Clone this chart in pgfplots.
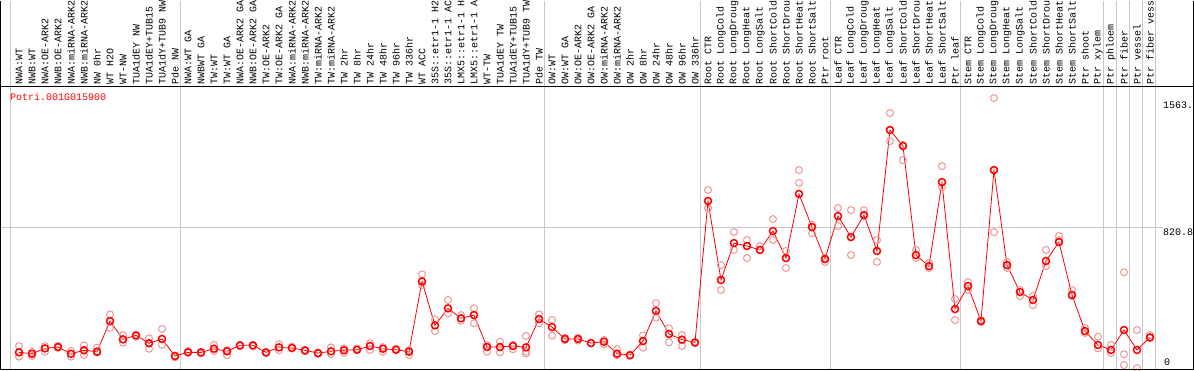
\documentclass[border=0pt]{standalone}
\usepackage{fontspec}
\setmainfont{Liberation Mono}
\usepackage{pgfplots}
\pgfplotsset{compat=1.18}
\definecolor{mred}{RGB}{255,0,0}
\definecolor{mpink}{RGB}{238,150,150}
\definecolor{mgrid}{RGB}{200,200,200}
\pgfplotstableread{
i v
0 97
1 89
2 120
3 128
4 89
5 109
6 101
7 279
8 173
9 196
10 150
11 175
12 76
13 97
14 97
15 118
16 103
17 138
18 138
19 97
20 126
21 122
22 109
23 93
24 103
25 109
26 112
27 134
28 118
29 112
30 101
31 510
32 254
33 353
34 295
35 314
36 128
37 128
38 134
39 126
40 291
41 244
42 175
43 175
44 151
45 159
46 89
47 81
48 163
49 338
50 204
51 171
52 155
53 978
54 518
55 733
56 716
57 693
58 803
59 646
60 1019
61 826
62 640
63 890
64 768
65 896
66 687
67 1391
68 1298
69 663
70 599
71 1088
72 349
73 483
74 279
75 1158
76 605
77 448
78 402
79 629
80 739
81 431
82 221
83 140
84 111
85 227
86 111
87 184
}\means
\pgfplotstableread{
i v
0 134
0 72
1 76
1 101
2 134
2 101
3 124
3 134
4 105
4 72
5 138
5 81
6 124
6 95
7 318
7 240
8 198
8 153
9 196
9 188
10 179
10 118
11 233
11 141
12 76
12 68
13 105
14 90
15 140
15 105
16 81
16 110
17 132
18 132
19 92
20 144
20 110
21 130
22 103
23 88
24 126
24 87
25 120
25 95
26 118
27 150
27 111
28 128
28 100
29 118
30 81
30 110
31 551
31 489
32 289
32 221
33 402
33 324
34 314
34 281
35 353
35 266
36 101
36 140
37 159
37 97
38 140
38 115
39 192
39 101
39 90
40 318
40 266
41 285
41 194
42 180
42 168
43 180
43 165
44 150
45 168
45 145
46 115
46 80
47 76
48 196
48 124
49 384
49 299
50 237
50 155
51 198
51 134
52 150
53 1042
53 937
54 605
54 460
55 797
55 693
56 751
56 646
57 693
57 716
58 873
58 751
59 687
59 588
60 1158
60 1083
61 840
61 790
62 646
62 623
63 937
63 832
64 925
64 663
65 925
65 890
66 751
66 623
67 1490
67 1327
68 1304
68 1216
69 693
69 646
70 617
70 588
71 1181
71 1059
72 407
72 285
73 506
73 460
74 285
74 274
75 1577
75 797
76 623
76 588
77 460
77 425
78 425
78 372
79 693
79 599
80 774
80 751
81 460
81 425
82 239
82 210
83 188
83 120
84 140
84 93
85 563
85 86
85 23
86 227
86 5
87 198
87 180
}\reps
\begin{document}
\begin{tikzpicture}[lab/.style={rotate=90, anchor=west, inner sep=0pt, font=\fontsize{10}{12}\selectfont}]
\begin{axis}[
 name=a,
 scale only axis, width=1192pt, height=368pt,
 xmin=-1.385, xmax=90.31, ymin=0, ymax=2142,
 axis line style={draw=none},
 xtick={-0.65,12.4,40.45,52.4,62.4,72.45,83.4,84.4,85.45,86.4,87.4},
 xticklabels={}, ytick=\empty, major tick length=0pt,
 xmajorgrids, grid style={mgrid, line width=1pt},
 clip=true,
]
\draw[mgrid, line width=1pt] (axis cs:-1.385,820.8) -- (axis cs:88,820.8);
\draw[black, line width=1pt] (axis cs:-1.385,1647) -- (axis cs:90.31,1647);
\addplot[only marks, mark=o, mark size=3.5pt, mpink, mark options={line width=1pt}] table[x=i, y=v] {\reps};
\addplot[mred, line width=0.8pt, mark=o, mark size=3.5pt, mark options={line width=1.5pt}] table[x=i, y=v] {\means};
\node[anchor=west, inner sep=0pt, text=mred, font=\fontsize{10}{12}\selectfont] at (axis cs:-0.69,1583) {Potri.001G015900};
\node[anchor=north west, inner sep=0pt, font=\fontsize{10}{12}\selectfont] at (axis cs:88,1554) {1563.};
\node[anchor=north west, inner sep=0pt, font=\fontsize{10}{12}\selectfont] at (axis cs:88,818) {820.8};
\node[anchor=south west, inner sep=0pt, font=\fontsize{10}{12}\selectfont] at (axis cs:88.08,17) {0};
\node[lab] at (axis cs:0,1656) {NWA:WT};
\node[lab] at (axis cs:1,1656) {NWB:WT};
\node[lab] at (axis cs:2,1656) {NWA:OE-ARK2};
\node[lab] at (axis cs:3,1656) {NWB:OE-ARK2};
\node[lab] at (axis cs:4,1656) {NWA:miRNA-ARK2};
\node[lab] at (axis cs:5,1656) {NWB:miRNA-ARK2};
\node[lab] at (axis cs:6,1656) {NW 0hr};
\node[lab] at (axis cs:7,1656) {WT H2O};
\node[lab] at (axis cs:8,1656) {WT-NW};
\node[lab] at (axis cs:9,1656) {TUA1dEY NW};
\node[lab] at (axis cs:10,1656) {TUA1dEY+TUB15};
\node[lab] at (axis cs:11,1656) {TUA1dY+TUB9 NW};
\node[lab] at (axis cs:12,1656) {Pde NW};
\node[lab] at (axis cs:13,1656) {NWA:WT GA};
\node[lab] at (axis cs:14,1656) {NWBWT GA};
\node[lab] at (axis cs:15,1656) {TW:WT};
\node[lab] at (axis cs:16,1656) {TW:WT GA};
\node[lab] at (axis cs:17,1656) {NWA:OE-ARK2 GA};
\node[lab] at (axis cs:18,1656) {NWB:OE-ARK2 GA};
\node[lab] at (axis cs:19,1656) {TW:OE-ARK2};
\node[lab] at (axis cs:20,1656) {TW:OE-ARK2 GA};
\node[lab] at (axis cs:21,1656) {NWA:miRNA-ARK2};
\node[lab] at (axis cs:22,1656) {NWB:miRNA-ARK2};
\node[lab] at (axis cs:23,1656) {TW:miRNA-ARK2};
\node[lab] at (axis cs:24,1656) {TW:miRNA-ARK2};
\node[lab] at (axis cs:25,1656) {TW 2hr};
\node[lab] at (axis cs:26,1656) {TW 8hr};
\node[lab] at (axis cs:27,1656) {TW 24hr};
\node[lab] at (axis cs:28,1656) {TW 48hr};
\node[lab] at (axis cs:29,1656) {TW 96hr};
\node[lab] at (axis cs:30,1656) {TW 336hr};
\node[lab] at (axis cs:31,1656) {WT ACC};
\node[lab] at (axis cs:32,1656) {35S::etr1-1 H2};
\node[lab] at (axis cs:33,1656) {35S::etr1-1 AC};
\node[lab] at (axis cs:34,1656) {LMX5::etr1-1 H};
\node[lab] at (axis cs:35,1656) {LMX5::etr1-1 A};
\node[lab] at (axis cs:36,1656) {WT-TW};
\node[lab] at (axis cs:37,1656) {TUA1dEY TW};
\node[lab] at (axis cs:38,1656) {TUA1dEY+TUB15};
\node[lab] at (axis cs:39,1656) {TUA1dY+TUB9 TW};
\node[lab] at (axis cs:40,1656) {Pde TW};
\node[lab] at (axis cs:41,1656) {OW:WT};
\node[lab] at (axis cs:42,1656) {OW:WT GA};
\node[lab] at (axis cs:43,1656) {OW:OE-ARK2};
\node[lab] at (axis cs:44,1656) {OW:OE-ARK2 GA};
\node[lab] at (axis cs:45,1656) {OW:miRNA-ARK2};
\node[lab] at (axis cs:46,1656) {OW:miRNA-ARK2};
\node[lab] at (axis cs:47,1656) {OW 2hr};
\node[lab] at (axis cs:48,1656) {OW 8hr};
\node[lab] at (axis cs:49,1656) {OW 24hr};
\node[lab] at (axis cs:50,1656) {OW 48hr};
\node[lab] at (axis cs:51,1656) {OW 96hr};
\node[lab] at (axis cs:52,1656) {OW 336hr};
\node[lab] at (axis cs:53,1656) {Root CTR};
\node[lab] at (axis cs:54,1656) {Root LongCold};
\node[lab] at (axis cs:55,1656) {Root LongDroug};
\node[lab] at (axis cs:56,1656) {Root LongHeat};
\node[lab] at (axis cs:57,1656) {Root LongSalt};
\node[lab] at (axis cs:58,1656) {Root ShortCold};
\node[lab] at (axis cs:59,1656) {Root ShortDrou};
\node[lab] at (axis cs:60,1656) {Root ShortHeat};
\node[lab] at (axis cs:61,1656) {Root ShortSalt};
\node[lab] at (axis cs:62,1656) {Ptr root};
\node[lab] at (axis cs:63,1656) {Leaf CTR};
\node[lab] at (axis cs:64,1656) {Leaf LongCold};
\node[lab] at (axis cs:65,1656) {Leaf LongDroug};
\node[lab] at (axis cs:66,1656) {Leaf LongHeat};
\node[lab] at (axis cs:67,1656) {Leaf LongSalt};
\node[lab] at (axis cs:68,1656) {Leaf ShortCold};
\node[lab] at (axis cs:69,1656) {Leaf ShortDrou};
\node[lab] at (axis cs:70,1656) {Leaf ShortHeat};
\node[lab] at (axis cs:71,1656) {Leaf ShortSalt};
\node[lab] at (axis cs:72,1656) {Ptr leaf};
\node[lab] at (axis cs:73,1656) {Stem CTR};
\node[lab] at (axis cs:74,1656) {Stem LongCold};
\node[lab] at (axis cs:75,1656) {Stem LongDroug};
\node[lab] at (axis cs:76,1656) {Stem LongHeat};
\node[lab] at (axis cs:77,1656) {Stem LongSalt};
\node[lab] at (axis cs:78,1656) {Stem ShortCold};
\node[lab] at (axis cs:79,1656) {Stem ShortDrou};
\node[lab] at (axis cs:80,1656) {Stem ShortHeat};
\node[lab] at (axis cs:81,1656) {Stem ShortSalt};
\node[lab] at (axis cs:82,1656) {Ptr shoot};
\node[lab] at (axis cs:83,1656) {Ptr xylem};
\node[lab] at (axis cs:84,1656) {Ptr phloem};
\node[lab] at (axis cs:85,1656) {Ptr fiber};
\node[lab] at (axis cs:86,1656) {Ptr vessel};
\node[lab] at (axis cs:87,1656) {Ptr fiber vess};
\end{axis}
\draw[black, line width=1pt] (a.north west) -- (a.south west) -- (a.south east) -- (a.north east);
\pgfresetboundingbox
\useasboundingbox ([shift={(-1pt,-1pt)}]a.south west) rectangle ([shift={(1pt,1pt)}]a.north east);
\end{tikzpicture}
\end{document}
